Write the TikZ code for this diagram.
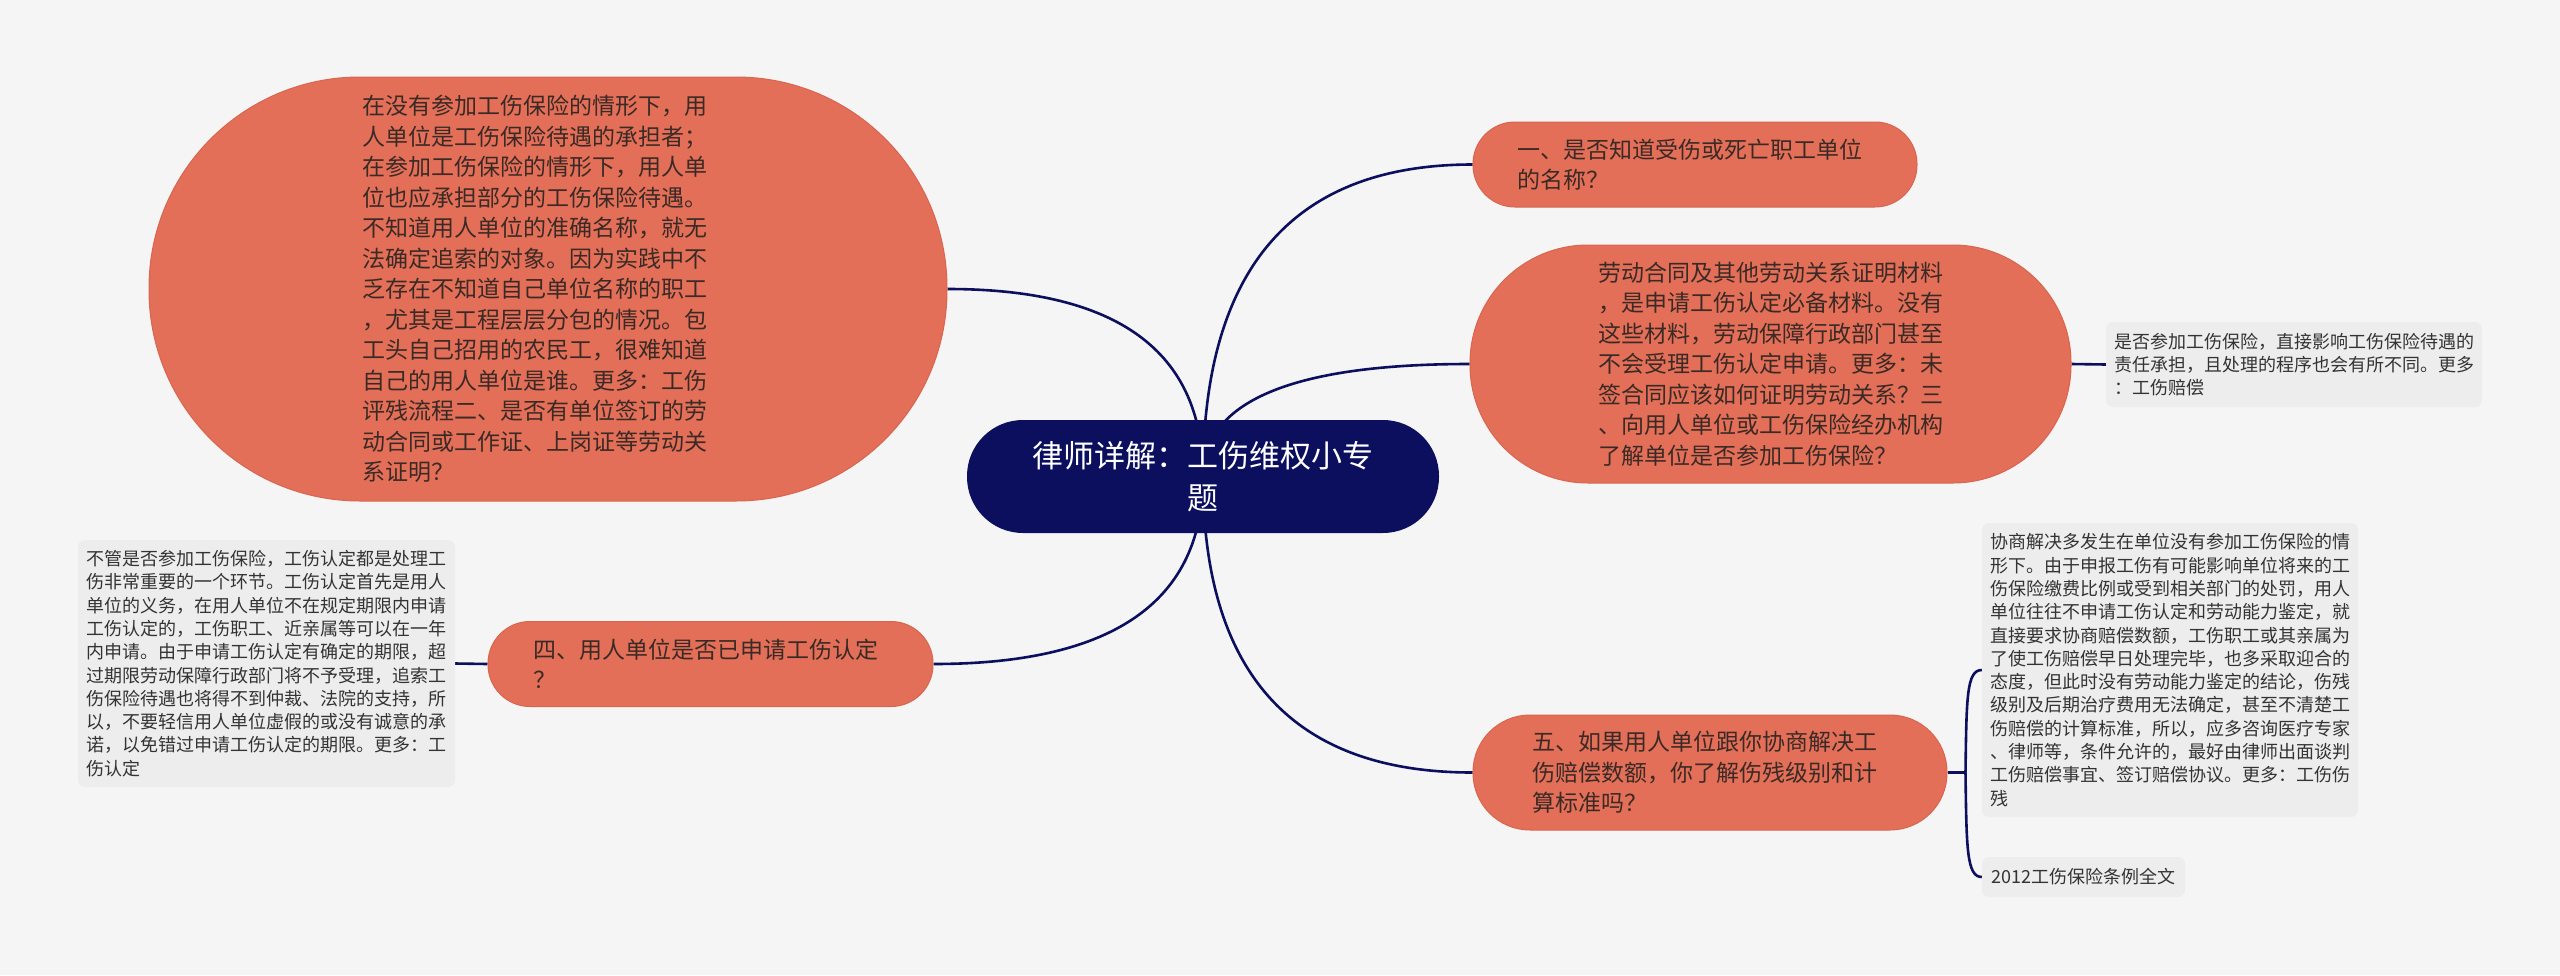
\documentclass[tikz,border=0pt]{standalone}
\usepackage{fontspec}
\setmainfont{Noto Sans CJK SC}
\usetikzlibrary{calc}
\pgfdeclarelayer{bg}
\pgfdeclarelayer{edges}
\pgfsetlayers{bg,edges,main}
\definecolor{bgc}{HTML}{F5F5F5}
\definecolor{coral}{HTML}{E46F59}
\definecolor{coralline}{HTML}{D9654F}
\definecolor{navy}{HTML}{0B0F5E}
\definecolor{ink}{HTML}{3A2A25}
\definecolor{leaf}{HTML}{EDEDED}
\definecolor{leafink}{HTML}{333333}
\begin{document}
\begin{tikzpicture}[x=1pt,y=-1pt,
  rootbox/.style={fill=navy,text=white,inner sep=0pt,align=center,font=\fontsize{31}{41.5}\selectfont},
  topic/.style={fill=coral,draw=coralline,line width=1pt,text=ink,inner sep=0pt,align=left,font=\fontsize{23}{30.5}\selectfont},
  leafbox/.style={fill=leaf,rounded corners=7pt,inner sep=0pt,align=left,text=leafink,font=\fontsize{18}{23.3}\selectfont},
  link/.style={draw=navy,line width=2.6pt}]
\useasboundingbox (0,0) rectangle (2560,975);
\begin{pgfonlayer}{bg}
\fill[bgc] (0,0) rectangle (2560,975);
\end{pgfonlayer}

\node[rootbox,minimum width=472pt,minimum height=113pt,rounded corners=56pt] (root) at (1203,476.5) {律师详解：工伤维权小专\\题};

\node[topic,minimum width=798pt,minimum height=424pt,rounded corners=211pt] (n1) at (548,289) {在没有参加工伤保险的情形下，用\rule{26pt}{0pt}\\人单位是工伤保险待遇的承担者；\\在参加工伤保险的情形下，用人单\\位也应承担部分的工伤保险待遇。\\不知道用人单位的准确名称，就无\\法确定追索的对象。因为实践中不\\乏存在不知道自己单位名称的职工\\，尤其是工程层层分包的情况。包\\工头自己招用的农民工，很难知道\\自己的用人单位是谁。更多：工伤\\评残流程二、是否有单位签订的劳\\动合同或工作证、上岗证等劳动关\\系证明？};

\node[topic,minimum width=444pt,minimum height=85pt,rounded corners=42pt] (b1) at (1695,164.5) {一、是否知道受伤或死亡职工单位\rule{10pt}{0pt}\\的名称？};

\node[topic,minimum width=601pt,minimum height=238pt,rounded corners=118pt] (b2) at (1770.5,364) {劳动合同及其他劳动关系证明材料\\，是申请工伤认定必备材料。没有\\这些材料，劳动保障行政部门甚至\\不会受理工伤认定申请。更多：未\\签合同应该如何证明劳动关系？三\\、向用人单位或工伤保险经办机构\\了解单位是否参加工伤保险？};

\node[topic,minimum width=445pt,minimum height=85pt,rounded corners=42pt] (b4) at (710.5,664) {四、用人单位是否已申请工伤认定\rule{10pt}{0pt}\\？};

\node[topic,minimum width=474pt,minimum height=115pt,rounded corners=57pt] (b5) at (1710,772.5) {五、如果用人单位跟你协商解决工\rule{10pt}{0pt}\\伤赔偿数额，你了解伤残级别和计\\算标准吗？};

\node[leafbox,minimum width=376pt,minimum height=85pt] (c2) at (2294,364.5) {是否参加工伤保险，直接影响工伤保险待遇的\\责任承担，且处理的程序也会有所不同。更多\\：工伤赔偿};

\node[leafbox,minimum width=377pt,minimum height=247pt] (c4) at (266.5,663.5) {不管是否参加工伤保险，工伤认定都是处理工\\伤非常重要的一个环节。工伤认定首先是用人\\单位的义务，在用人单位不在规定期限内申请\\工伤认定的，工伤职工、近亲属等可以在一年\\内申请。由于申请工伤认定有确定的期限，超\\过期限劳动保障行政部门将不予受理，追索工\\伤保险待遇也将得不到仲裁、法院的支持，所\\以，不要轻信用人单位虚假的或没有诚意的承\\诺，以免错过申请工伤认定的期限。更多：工\\伤认定};

\node[leafbox,minimum width=376pt,minimum height=294pt] (c5) at (2170,670) {协商解决多发生在单位没有参加工伤保险的情\\形下。由于申报工伤有可能影响单位将来的工\\伤保险缴费比例或受到相关部门的处罚，用人\\单位往往不申请工伤认定和劳动能力鉴定，就\\直接要求协商赔偿数额，工伤职工或其亲属为\\了使工伤赔偿早日处理完毕，也多采取迎合的\\态度，但此时没有劳动能力鉴定的结论，伤残\\级别及后期治疗费用无法确定，甚至不清楚工\\伤赔偿的计算标准，所以，应多咨询医疗专家\\、律师等，条件允许的，最好由律师出面谈判\\工伤赔偿事宜、签订赔偿协议。更多：工伤伤\\残};

\node[leafbox,minimum width=203pt,minimum height=40pt] (c5b) at (2083.5,877) {2012工伤保险条例全文};

\begin{pgfonlayer}{edges}
\draw[link] (root.center) .. controls ($(root.center)!2/3!(root.center |- b1.west)$) and ($(b1.west)!2/3!(root.center |- b1.west)$) .. (b1.west);
\draw[link] (root.center) .. controls ($(root.center)!2/3!(root.center |- b2.west)$) and ($(b2.west)!2/3!(root.center |- b2.west)$) .. (b2.west);
\draw[link] (root.center) .. controls ($(root.center)!2/3!(root.center |- n1.east)$) and ($(n1.east)!2/3!(root.center |- n1.east)$) .. (n1.east);
\draw[link] (root.center) .. controls ($(root.center)!2/3!(root.center |- b4.east)$) and ($(b4.east)!2/3!(root.center |- b4.east)$) .. (b4.east);
\draw[link] (root.center) .. controls ($(root.center)!2/3!(root.center |- b5.west)$) and ($(b5.west)!2/3!(root.center |- b5.west)$) .. (b5.west);
\draw[link] (b2.east) -- (c2.west);
\draw[link] (b4.west) -- (c4.east);
\coordinate (j5) at ($(b5.east)+(18,0)$);
\draw[link] (b5.east) -- (j5);
\draw[link] (j5) .. controls ($(j5)+(1,-75)$) and ($(j5 |- c5.west)+(1,0)$) .. (c5.west);
\draw[link] (j5) .. controls ($(j5)+(1,75)$) and ($(j5 |- c5b.west)+(1,0)$) .. (c5b.west);
\end{pgfonlayer}
\end{tikzpicture}
\end{document}
